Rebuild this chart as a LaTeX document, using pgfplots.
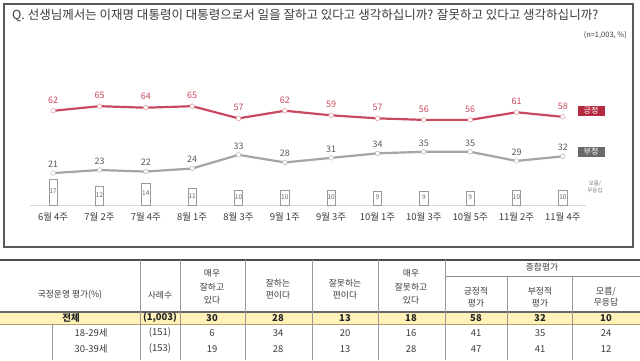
\documentclass[border=0pt]{standalone}
\usepackage{pgfplots}
\pgfplotsset{compat=1.18}
\usepackage{fontspec}
\setmainfont{Noto Sans CJK KR}
\definecolor{posred}{HTML}{C94A5E}
\definecolor{posbadge}{HTML}{B52A40}
\definecolor{neggray}{HTML}{A5A5A5}
\definecolor{negbadge}{HTML}{6A6A6A}
\definecolor{txt}{HTML}{3C3C3C}
\definecolor{rowyellow}{HTML}{FFF2B8}
\newcommand{\fs}[1]{\fontsize{#1}{#1}\selectfont}
\begin{document}
\begin{tikzpicture}[x=1bp,y=1bp]
\useasboundingbox[fill=white] (0,0) rectangle (640,360);
% chart frame
\draw[line width=1.5bp, color=black!65] (4,113) rectangle (633,356);
\node[anchor=west, text=txt, inner sep=0] at (12,345) {\resizebox{586bp}{!}{Q. 선생님께서는 이재명 대통령이 대통령으로서 일을 잘하고 있다고 생각하십니까? 잘못하고 있다고 생각하십니까?}};
\node[anchor=east, text=txt, inner sep=0, font=\fs{7.5}] at (627,325) {(n=1,003, \%)};
\begin{axis}[
  at={(30bp,155bp)}, anchor=south west, scale only axis,
  width=556bp, height=152bp,
  xmin=-0.5, xmax=11.5, ymin=0, ymax=100,
  clip=false,
  axis y line=none, axis x line*=bottom,
  x axis line style={draw=black!15, line width=0.7bp, -},
  xtick={0,...,11},
  xticklabels={6월 4주, 7월 2주, 7월 4주, 8월 1주, 8월 3주, 9월 1주, 9월 3주, 10월 1주, 10월 3주, 10월 5주, 11월 2주, 11월 4주},
  major tick length=0pt,
  xticklabel style={font=\fs{9.5}, text=txt, yshift=-4bp},
  /pgf/number format/assume math mode=true,
]
% no answer bars
\addplot[ybar, bar width=8.5bp, draw=black!40, fill=white, line width=0.6bp,
  visualization depends on={y \as \rawy},
  nodes near coords, nodes near coords style={anchor=center, font=\fs{6.5}, text=black!60, inner sep=0bp, yshift={-0.7bp*\rawy}}]
  coordinates {(0,17) (1,12) (2,14) (3,11) (4,10) (5,10) (6,10) (7,9) (8,9) (9,9) (10,10) (11,10)};
% negative
\addplot[color=neggray, line width=2.2bp, mark=*, mark size=2.3bp,
  mark options={fill=white, draw=neggray!70, line width=0.6bp},
  nodes near coords, nodes near coords style={anchor=south, font=\fs{9}, text=black!65, yshift=2bp}]
  coordinates {(0,21) (1,23) (2,22) (3,24) (4,33) (5,28) (6,31) (7,34) (8,35) (9,35) (10,29) (11,32)};
% positive
\addplot[color=posred, line width=2.2bp, mark=*, mark size=2.3bp,
  mark options={fill=white, draw=posred!50, line width=0.6bp},
  nodes near coords, nodes near coords style={anchor=south, font=\fs{9}, text=posred, yshift=4bp}]
  coordinates {(0,62) (1,65) (2,64) (3,65) (4,57) (5,62) (6,59) (7,57) (8,56) (9,56) (10,61) (11,58)};
\end{axis}
\node[fill=posbadge, text=white, font=\fs{8}, minimum width=27bp, minimum height=10bp, inner sep=0] at (591,249) {긍정};
\node[fill=negbadge, text=white, font=\fs{8}, minimum width=27bp, minimum height=10bp, inner sep=0] at (591,208) {부정};
\node[text=black!55, font=\fs{5.5}, align=center, inner sep=0] at (595,173) {모름/\\무응답};
% table
\fill[rowyellow] (0,36) rectangle (640,48);
\draw[line width=1.3bp, black!70] (0,100) -- (640,100);
\draw[line width=0.6bp, black!45] (445,84) -- (640,84);
\draw[line width=1.1bp, black!60] (0,48) -- (640,48);
\draw[line width=0.8bp, color={rgb,255:red,175;green,160;blue,110}] (0,36) -- (640,36);
\foreach \xx in {140,180,245,312,378,445} \draw[line width=0.6bp, black!40] (\xx,100) -- (\xx,0);
\foreach \xx in {507,572} \draw[line width=0.6bp, black!40] (\xx,84) -- (\xx,0);
\draw[line width=0.6bp, black!40] (52,36) -- (52,0);
\begin{scope}[every node/.style={text=txt, font=\fs{8.8}, align=center, inner sep=0}]
\node at (542,93) {종합평가};
\node at (70,65) {국정운영 평가(\%)};
\node at (160,65) {사례수};
\node[font=\fontsize{8.8}{13.5}\selectfont] at (212,73) {매우\\잘하고\\있다};
\node[font=\fontsize{8.8}{12.5}\selectfont] at (278,71) {잘하는\\편이다};
\node[font=\fontsize{8.8}{12.5}\selectfont] at (345,71) {잘못하는\\편이다};
\node[font=\fontsize{8.8}{13.5}\selectfont] at (411,73) {매우\\잘못하고\\있다};
\node[font=\fontsize{8.8}{11.5}\selectfont] at (476,63) {긍정적\\평가};
\node[font=\fontsize{8.8}{11.5}\selectfont] at (540,63) {부정적\\평가};
\node[font=\fontsize{8.8}{11.5}\selectfont] at (606,63) {모름/\\무응답};
\end{scope}
\begin{scope}[every node/.style={text=black!85, font=\fs{9.5}\bfseries, inner sep=0}]
\node at (71,42) {전체};
\node at (160,42) {(1,003)};
\node at (212,42) {30};
\node at (278,42) {28};
\node at (345,42) {13};
\node at (411,42) {18};
\node at (476,42) {58};
\node at (540,42) {32};
\node at (606,42) {10};
\end{scope}
\begin{scope}[every node/.style={text=txt, font=\fs{9.5}, inner sep=0}]
\node at (91,27) {18-29세};
\node at (160,27) {(151)};
\node at (212,27) {6};
\node at (278,27) {34};
\node at (345,27) {20};
\node at (411,27) {16};
\node at (476,27) {41};
\node at (540,27) {35};
\node at (606,27) {24};
\node at (91,11) {30-39세};
\node at (160,11) {(153)};
\node at (212,11) {19};
\node at (278,11) {28};
\node at (345,11) {13};
\node at (411,11) {28};
\node at (476,11) {47};
\node at (540,11) {41};
\node at (606,11) {12};
\end{scope}
\end{tikzpicture}
\end{document}
